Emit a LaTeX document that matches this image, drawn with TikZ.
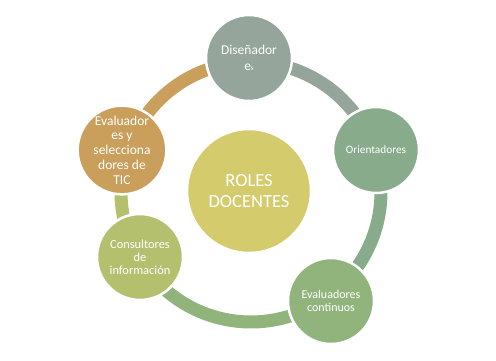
\documentclass[tikz,border=0pt]{standalone}
\usepackage{fontspec}
\setmainfont{Carlito}
\usetikzlibrary{calc}
\definecolor{cDis}{RGB}{149,165,155}
\definecolor{cOri}{RGB}{136,171,139}
\definecolor{cEvc}{RGB}{145,180,125}
\definecolor{cCon}{RGB}{181,192,110}
\definecolor{cEvs}{RGB}{201,159,91}
\definecolor{cCen}{RGB}{211,203,108}
\tikzset{
  role/.style={circle, draw=white, line width=2.5pt, minimum size=86pt, inner sep=0pt,
    text=white, align=center},
  hub/.style={circle, draw=white, line width=2.5pt, minimum size=124pt, inner sep=0pt,
    text=white, align=center, fill=cCen,
    font=\fontsize{18.5}{21}\selectfont},
  ringarc/.style={line width=13pt}
}
\begin{document}
\begin{tikzpicture}[x=1pt,y=1pt]
\useasboundingbox (0,0) rectangle (496,-361);
\coordinate (ring) at (251,-192);
% ring arcs (behind the circles)
\draw[ringarc, cDis] ($(ring)+(90.9:130)$) arc[start angle=90.9, end angle=18.6, radius=130];
\draw[ringarc, cOri] ($(ring)+(18.6:130)$) arc[start angle=18.6, end angle=-53.7, radius=130];
\draw[ringarc, cEvc] ($(ring)+(-53.7:130)$) arc[start angle=-53.7, end angle=-149.6, radius=130];
\draw[ringarc, cCon] ($(ring)+(-149.6:130)$) arc[start angle=-149.6, end angle=-198, radius=130];
\draw[ringarc, cEvs] ($(ring)+(162:130)$) arc[start angle=162, end angle=90.9, radius=130];
% circles
\node[hub] (cen) at (249,-191) {ROLES\\DOCENTES};
\node[role, fill=cDis, font=\fontsize{13.5}{15.5}\selectfont] (dis) at (249,-58)
  {Diseñador\\e{\fontsize{7}{7}\selectfont s}};
\node[role, fill=cOri, font=\fontsize{11.3}{13}\selectfont] (ori) at (376,-150) {Orientadores};
\node[role, fill=cEvc, font=\fontsize{12}{12.5}\selectfont] (evc) at (331,-301) {Evaluadores\\continuos};
\node[role, fill=cCon, font=\fontsize{12.4}{13}\selectfont] (con) at (140,-257) {Consultores\\de\\información};
\node[role, fill=cEvs, font=\fontsize{13.5}{14.7}\selectfont] (evs) at (122,-150)
  {Evaluador\\es y\\selecciona\\dores de\\TIC};
\end{tikzpicture}
\end{document}
